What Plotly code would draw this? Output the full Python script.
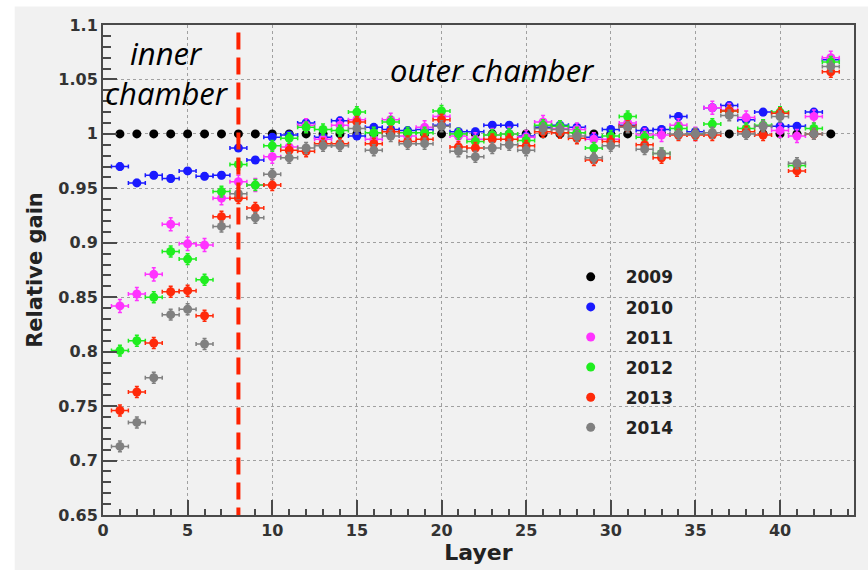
import plotly.graph_objects as go

layers = list(range(1, 44))

years = ["2009", "2010", "2011", "2012", "2013", "2014"]

gain_2009 = [1.000] * 43

gain_2010 = [0.970, 0.955, 0.962, 0.959, 0.966, 0.961, 0.962, 0.987, 0.976, 0.997,
             0.999, 1.010, 0.997, 1.012, 0.998, 1.006, 1.004, 1.003, 1.004, 1.008,
             1.002, 1.002, 1.008, 1.008, 0.998, 1.006, 1.008, 1.006, 0.997, 1.004,
             1.008, 1.003, 1.004, 1.016, 1.002, 1.024, 1.026, 1.013, 1.020, 1.007,
             1.007, 1.020, 1.068]

gain_2011 = [0.842, 0.853, 0.871, 0.917, 0.899, 0.898, 0.941, 0.956, 0.953, 0.979,
             0.988, 1.008, 0.995, 1.008, 1.013, 0.995, 1.013, 0.998, 1.006, 1.016,
             0.998, 0.995, 0.999, 1.000, 0.997, 1.011, 1.005, 1.004, 0.995, 0.995,
             1.010, 0.999, 0.999, 1.008, 1.000, 1.024, 1.022, 1.015, 1.007, 1.003,
             0.998, 1.016, 1.070]

gain_2012 = [0.801, 0.810, 0.850, 0.892, 0.885, 0.866, 0.947, 0.972, 0.953, 0.989,
             0.996, 1.006, 1.004, 1.003, 1.020, 1.001, 1.011, 1.001, 1.001, 1.021,
             1.000, 0.993, 0.999, 1.000, 0.994, 1.008, 1.007, 1.001, 0.987, 0.998,
             1.016, 0.997, 0.982, 1.005, 1.000, 1.009, 1.021, 1.005, 1.008, 1.020,
             0.971, 1.005, 1.066]

gain_2013 = [0.746, 0.763, 0.808, 0.855, 0.856, 0.833, 0.924, 0.941, 0.932, 0.953,
             0.985, 0.984, 0.991, 0.991, 1.011, 0.991, 1.002, 0.993, 0.995, 1.013,
             0.988, 0.987, 0.995, 0.995, 0.989, 1.002, 1.001, 0.996, 0.976, 0.993,
             1.007, 0.990, 0.978, 0.999, 0.999, 0.999, 1.021, 1.002, 0.999, 1.019,
             0.966, 1.000, 1.057]

gain_2014 = [0.713, 0.735, 0.776, 0.834, 0.839, 0.807, 0.915, 0.945, 0.923, 0.963,
             0.978, 0.987, 0.989, 0.989, 1.005, 0.985, 0.998, 0.991, 0.991, 1.007,
             0.984, 0.979, 0.987, 0.990, 0.985, 1.005, 1.004, 0.998, 0.978, 0.989,
             1.006, 0.986, 0.982, 1.000, 1.000, 1.001, 1.017, 1.000, 1.007, 1.016,
             0.973, 1.000, 1.062]

layer_halfwidth = [0.0, 0.5, 0.5, 0.5, 0.5, 0.5]
gain_error = [0.0, 0.003, 0.006, 0.005, 0.005, 0.005]

y_tickvals = [0.65, 0.7, 0.75, 0.8, 0.85, 0.9, 0.95, 1.0, 1.05, 1.1]
y_ticktext = ["0.65", "0.7", "0.75", "0.8", "0.85", "0.9", "0.95", "1", "1.05", "1.1"]
x_tickvals = [0, 5, 10, 15, 20, 25, 30, 35, 40]
x_ticktext = ["0", "5", "10", "15", "20", "25", "30", "35", "40"]

boundary_layer = 8

all_gains = [gain_2009, gain_2010, gain_2011, gain_2012, gain_2013, gain_2014]
colors = ["#000000", "#1a1aff", "#ff33ff", "#1fee1f", "#ff2a0a", "#808080"]

fig = go.Figure()

for i, (yr, g) in enumerate(zip(years, all_gains)):
    fig.add_trace(go.Scatter(
        x=layers, y=g, mode="markers", name=yr, legendgroup=yr,
        marker=dict(color=colors[i], size=9),
        error_x=dict(type="constant", value=layer_halfwidth[i], color=colors[i],
                     thickness=1.5, width=2, visible=layer_halfwidth[i] > 0),
        error_y=dict(type="constant", value=gain_error[i], color=colors[i],
                     thickness=1.5, width=2, visible=gain_error[i] > 0),
    ))

FONT = "DejaVu Sans"

# light gray canvas with a thin white border top/left
px_l, px_r, px_t, px_b = 103.3, 854.3, 24.5, 515.0
pw, ph = px_r - px_l, px_b - px_t
fig.add_shape(type="rect", xref="paper", yref="paper", layer="below",
              x0=(15 - px_l) / pw, x1=(870 - px_l) / pw,
              y0=(px_b - 572) / ph, y1=(px_b - 6) / ph,
              fillcolor="#f1f1f1", line=dict(width=0))

# dashed separation line
fig.add_shape(type="line", xref="x", yref="y",
              x0=boundary_layer, x1=boundary_layer, y0=1.093, y1=0.65,
              line=dict(color="#ff2200", width=4, dash="17px,8px"))

ann_font = dict(family="Open Sans", size=31, color="#000000", style="italic")
fig.add_annotation(x=3.76, y=1.074, xref="x", yref="y", text="inner",
                   showarrow=False, font=ann_font)
fig.add_annotation(x=3.76, y=1.038, xref="x", yref="y", text="chamber",
                   showarrow=False, font=ann_font)
fig.add_annotation(x=23.03, y=1.059, xref="x", yref="y", text="outer chamber",
                   showarrow=False, font=ann_font)

axis_common = dict(
    showline=True, linecolor="#4a4a4a", linewidth=2, mirror=True,
    ticks="inside", tickcolor="#4a4a4a", tickwidth=1.5,
    showgrid=True, gridcolor="#a0a0a0", griddash="dot", gridwidth=1,
    zeroline=False, automargin=False,
    tickfont=dict(family=FONT, size=16, color="#333333", weight="bold"),
)

fig.update_xaxes(
    range=[0, 44.37], tickvals=x_tickvals, ticktext=x_ticktext, ticklen=15,
    minor=dict(dtick=1, ticklen=6, ticks="inside", tickcolor="#4a4a4a", showgrid=False),
    title=dict(text="Layer", font=dict(family=FONT, size=22, color="#222222", weight="bold"),
               standoff=5),
    **axis_common)
fig.update_yaxes(
    range=[0.65, 1.1], tickvals=y_tickvals, ticktext=y_ticktext, ticklen=14,
    minor=dict(dtick=0.01, tick0=0.65, ticklen=8, ticks="inside", tickcolor="#4a4a4a", showgrid=False),
    title=dict(text="Relative gain", font=dict(family=FONT, size=21, color="#222222", weight="bold"),
               standoff=10),
    **axis_common)

fig.update_layout(
    width=868, height=570,
    margin=dict(l=px_l, r=868 - px_r, t=px_t, b=570 - px_b),
    paper_bgcolor="#ffffff", plot_bgcolor="rgba(0,0,0,0)",
    showlegend=True,
    legend=dict(x=(556 - px_l) / pw, xanchor="left", y=(px_b - 259) / ph, yanchor="top",
                bgcolor="rgba(0,0,0,0)", borderwidth=0, itemwidth=60,
                traceorder="grouped", tracegroupgap=5,
                font=dict(family=FONT, size=17, color="#222222", weight="bold")),
)

fig.write_html("out.html")
